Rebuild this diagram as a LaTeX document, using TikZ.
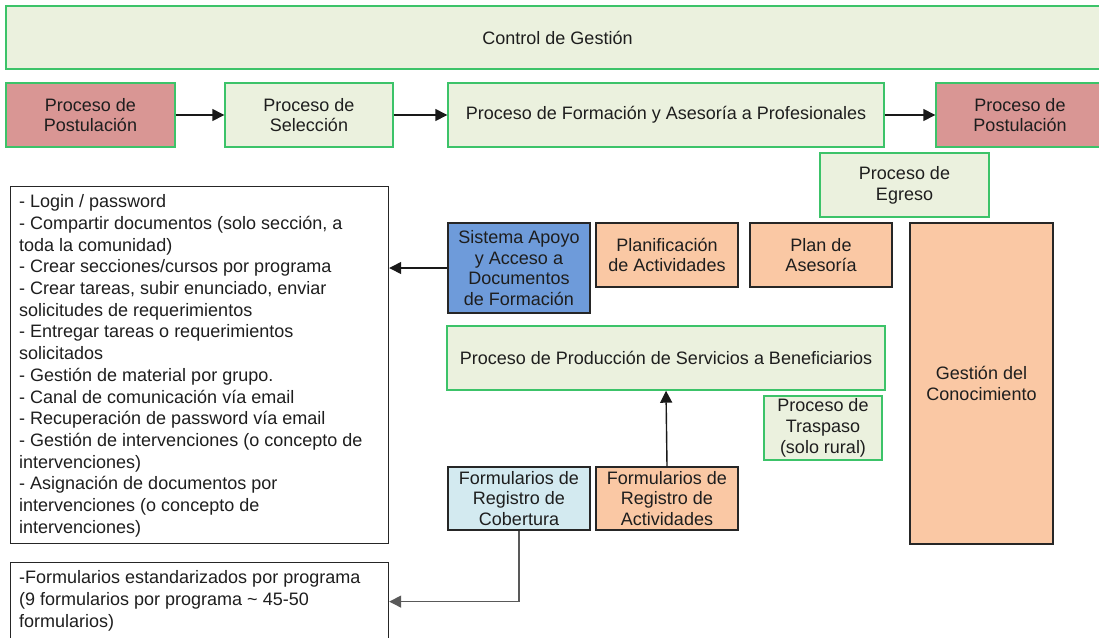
\documentclass[tikz,border=0pt]{standalone}
\usepackage{fontspec}
\setmainfont{Liberation Sans}
\usetikzlibrary{arrows.meta}
\definecolor{gfill}{RGB}{235,241,222}
\definecolor{gline}{RGB}{60,195,105}
\definecolor{rfill}{RGB}{217,150,148}
\definecolor{pfill}{RGB}{250,200,164}
\definecolor{bfill}{RGB}{110,155,218}
\definecolor{lbfill}{RGB}{211,234,240}
\definecolor{txt}{RGB}{30,30,30}
\begin{document}
\begin{tikzpicture}[x=1pt,y=-1pt,
  base/.style={rectangle, line width=1.4pt, align=center, inner sep=0pt, text=txt,
     font={\fontsize{18}{20.8}\selectfont}},
  gbox/.style={base, draw=gline, fill=gfill},
  rbox/.style={base, draw=gline, fill=rfill},
  pbox/.style={base, draw=black!85, fill=pfill},
  bbox/.style={base, draw=black!85, fill=bfill},
  lbbox/.style={base, draw=black!85, fill=lbfill},
  listbox/.style={rectangle, draw=black!85, line width=1.2pt, fill=white, inner sep=0pt},
  listtext/.style={inner sep=0pt, align=left, text=txt, font={\fontsize{18}{21.7}\selectfont}},
  arr/.style={line width=1.4pt, draw=black!90, -{Triangle[length=12pt,width=12pt]}},
  garr/.style={line width=1.4pt, draw=black!65, -{Triangle[length=12pt,width=12pt]}}
]
\useasboundingbox (0,0) rectangle (1099,637);
\fill[white] (0,0) rectangle (1099,637);

\node[gbox, minimum width=1103, minimum height=63] (ctrl) at (557.5,37.5) {Control de Gestión};

\node[rbox, minimum width=169, minimum height=64] (post1) at (90.5,115) {Proceso de\\Postulación};
\node[gbox, minimum width=168, minimum height=64] (sel) at (309,115) {Proceso de\\Selección};
\node[gbox, minimum width=436, minimum height=64] (form) at (666,115) {Proceso de Formación y Asesoría a Profesionales};
\node[rbox, minimum width=168, minimum height=64] (post2) at (1020,115) {Proceso de\\Postulación};

\node[gbox, minimum width=169, minimum height=64] (egr) at (904.5,185) {Proceso de\\Egreso};

\node[bbox, minimum width=142, minimum height=90] (sis) at (519,268) {Sistema Apoyo\\y Acceso a\\Documentos\\de Formación};
\node[pbox, minimum width=142, minimum height=64] (plan) at (667,255) {Planificación\\de Actividades};
\node[pbox, minimum width=142, minimum height=64] (ase) at (821,255) {Plan de\\Asesoría};
\node[pbox, minimum width=143, minimum height=321] (gc) at (981.5,383.5) {Gestión del\\Conocimiento};

\node[gbox, minimum width=438, minimum height=64] (prod) at (666,358) {Proceso de Producción de Servicios a Beneficiarios};
\node[gbox, minimum width=118, minimum height=64] (tras) at (823,428) {Proceso de\\Traspaso\\(solo rural)};

\node[lbbox, minimum width=142, minimum height=63] (cob) at (519,498.5) {Formularios de\\Registro de\\Cobertura};
\node[pbox, minimum width=142, minimum height=63] (act) at (667,498.5) {Formularios de\\Registro de\\Actividades};

\node[listbox, minimum width=378, minimum height=357, anchor=north west] (l1) at (10,186) {};
\node[listtext, anchor=north west] (l1t) at (19,194.5) {- Login / password\\
- Compartir documentos (solo sección, a\\
toda la comunidad)\\
- Crear secciones/cursos por programa\\
- Crear tareas, subir enunciado, enviar\\
solicitudes de requerimientos\\
- Entregar tareas o requerimientos\\
solicitados\\
- Gestión de material por grupo.\\
- Canal de comunicación vía email\\
- Recuperación de password vía email\\
- Gestión de intervenciones (o concepto de\\
intervenciones)\\
- Asignación de documentos por\\
intervenciones (o concepto de\\
intervenciones)};

\node[listbox, minimum width=378, minimum height=78, anchor=north west] (l2) at (10,562) {};
\node[listtext, anchor=north west] (l2t) at (19,570.5) {-Formularios estandarizados por programa\\
(9 formularios por programa \textasciitilde{} 45-50\\
formularios)};

\draw[arr] (post1.east) -- (sel.west);
\draw[arr] (sel.east) -- (form.west);
\draw[arr] (form.east) -- (post2.west);
\draw[arr] (sis.west) -- (sis.west -| l1.east);
\draw[arr] (act.north) -- (prod.south);
\draw[garr] (cob.south) |- (l2.east);
\end{tikzpicture}
\end{document}
